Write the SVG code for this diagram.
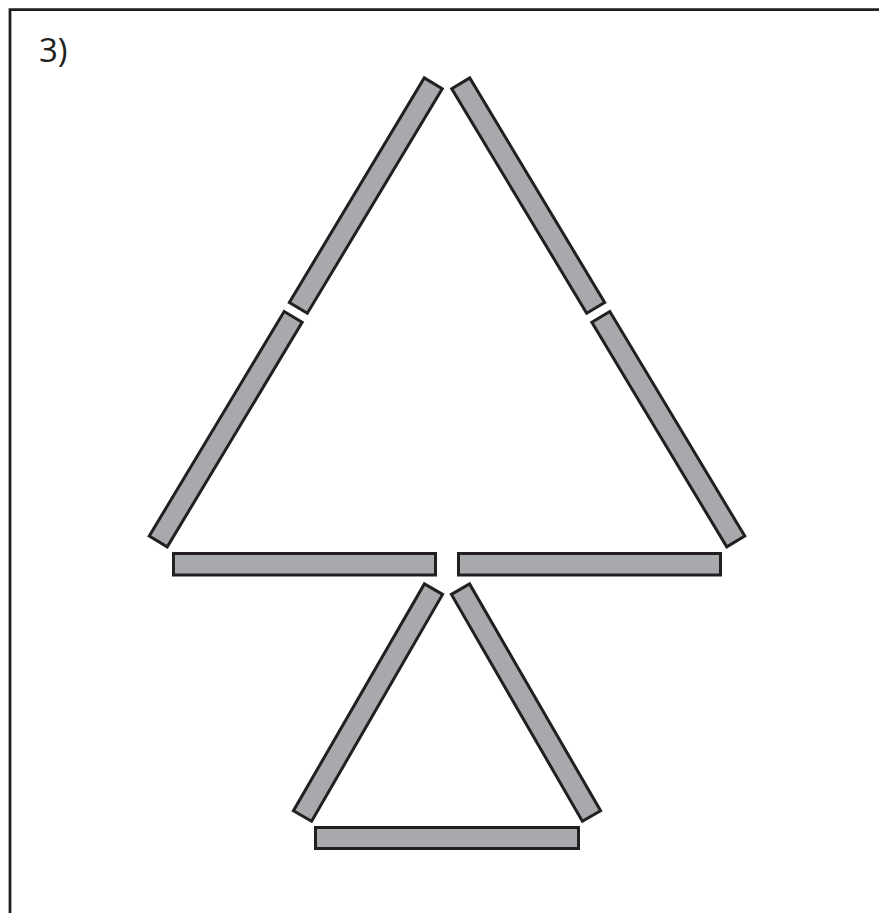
<svg xmlns="http://www.w3.org/2000/svg" width="879" height="913" viewBox="0 0 879 913">
<style>
.stick{fill:#a7a9ac;stroke:#231f20;stroke-width:3;stroke-linejoin:miter}
.frame{fill:none;stroke:#231f20;stroke-width:2.8}
.lbl{font-family:"Open Sans","Liberation Sans",sans-serif;font-size:33px;fill:#231f20}
</style>
<defs>
<rect id="s" class="stick" x="-131" y="-10.5" width="262" height="21"/>
</defs>
<rect width="879" height="913" fill="#fff"/>
<path class="frame" d="M10 913 V9.6 H879"/>
<text class="lbl" x="39" y="62">3)</text>
<g id="big-left-top"><use href="#s" transform="translate(365.8 195.6) rotate(-59)"/></g>
<g id="big-left-bottom"><use href="#s" transform="translate(225.7 429.2) rotate(-59)"/></g>
<g id="big-right-top"><use href="#s" transform="translate(528.2 195.6) rotate(59)"/></g>
<g id="big-right-bottom"><use href="#s" transform="translate(668.3 429.2) rotate(59)"/></g>
<g id="big-base-left"><rect class="stick" x="173.5" y="553.5" width="262" height="21.5"/></g>
<g id="big-base-right"><rect class="stick" x="458.5" y="553.5" width="262" height="21.5"/></g>
<g id="small-left"><use href="#s" transform="translate(368 702.6) rotate(-60)"/></g>
<g id="small-right"><use href="#s" transform="translate(526 702.6) rotate(60)"/></g>
<g id="small-base"><rect class="stick" x="315.5" y="827.5" width="263" height="21"/></g>
<g id="connectors"></g>
</svg>
